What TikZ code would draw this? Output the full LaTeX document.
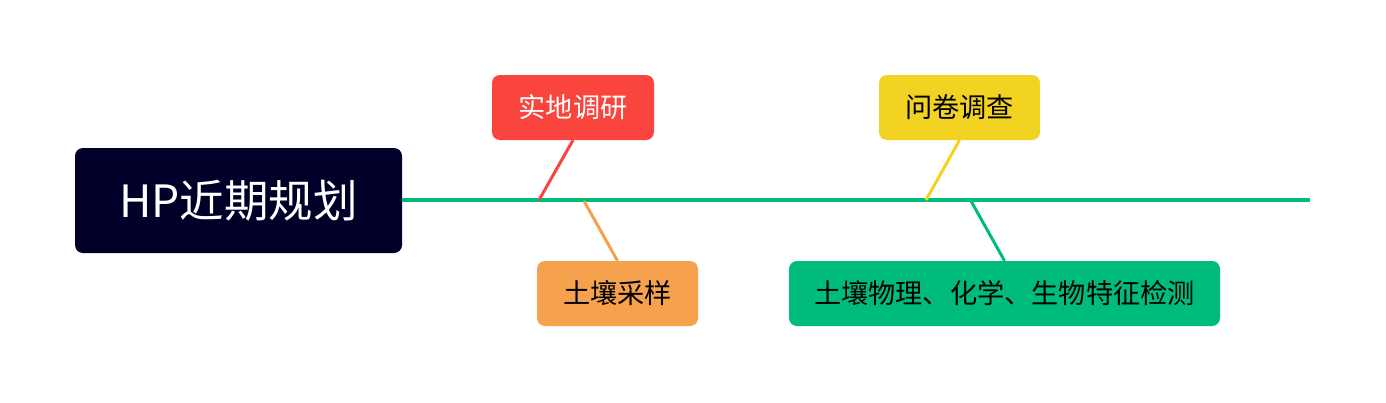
\documentclass[tikz,border=0pt]{standalone}
\usepackage{fontspec}
\setmainfont{Noto Sans CJK SC}
\definecolor{navy}{HTML}{000029}
\definecolor{fbred}{HTML}{FA453F}
\definecolor{fborange}{HTML}{F6A14D}
\definecolor{fbyellow}{HTML}{F2D322}
\definecolor{fbgreen}{HTML}{00BC7B}
\begin{document}
\begin{tikzpicture}[x=1pt,y=-1pt,
  box/.style={rounded corners=8pt, inner sep=0pt, minimum height=65pt, font=\fontsize{27.2}{32}\selectfont, text=black},
  conn/.style={line width=3pt}]
\useasboundingbox (0,0) rectangle (1386,402);
\node[box, fill=navy, text=white, minimum width=327pt, minimum height=105pt, font=\fontsize{44.5}{52}\selectfont] (root) at (238.5,200.5) {HP近期规划};
\coordinate (end) at (1310,200);
\draw[fbgreen, line width=4pt] (root.east |- end) -- (end);
\node[box, fill=fbred, text=white, minimum width=162pt] (sd) at (573,107.5) {实地调研};
\node[box, fill=fborange, minimum width=161pt] (cy) at (617.5,293.5) {土壤采样};
\node[box, fill=fbyellow, minimum width=161pt] (wj) at (959.5,107.5) {问卷调查};
\node[box, fill=fbgreen, minimum width=431pt] (jc) at (1004.5,293.5) {土壤物理、化学、生物特征检测};
\coordinate (p1) at (539,200);
\coordinate (p2) at (584,201);
\coordinate (p3) at (926,200);
\coordinate (p4) at (971,201);
\draw[conn, fbred] (sd.south) -- (p1);
\draw[conn, fborange] (cy.north) -- (p2);
\draw[conn, fbyellow] (wj.south) -- (p3);
\draw[conn, fbgreen] (jc.north) -- (p4);
\end{tikzpicture}
\end{document}
